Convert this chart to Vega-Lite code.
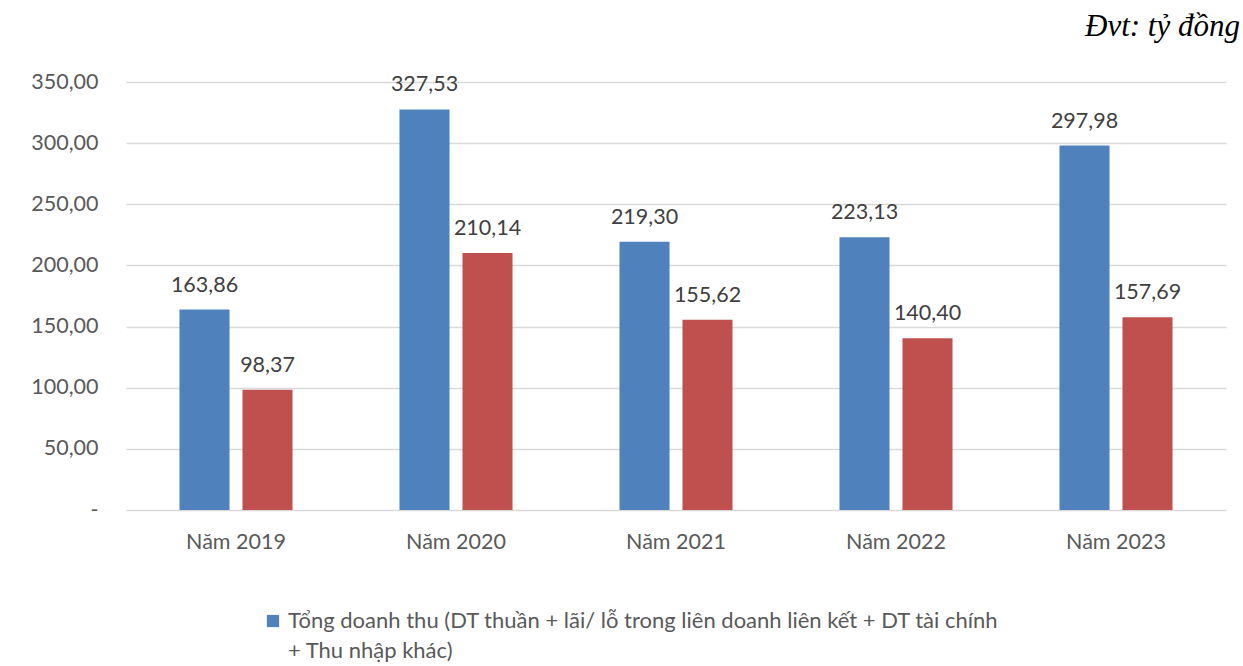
{
  "$schema": "https://vega.github.io/schema/vega-lite/v6.json",
  "width": 1100,
  "height": 428,
  "autosize": {"type": "none"},
  "padding": {"left": 126, "top": 82, "right": 17, "bottom": 156},
  "background": "white",
  "config": {
    "locale": {"number": {"decimal": ",", "thousands": ".", "grouping": [3], "currency": ["", ""]}},
    "view": {"stroke": null},
    "font": "Lato"
  },
  "title": {
    "text": "Đvt: tỷ đồng",
    "anchor": "end",
    "frame": "group",
    "font": "Liberation Serif",
    "fontStyle": "italic",
    "fontSize": 31,
    "fontWeight": "normal",
    "color": "#000000",
    "offset": 28,
    "dx": 14
  },
  "data": {
    "values": [
      {"nam": "Năm 2019", "series": "Tổng doanh thu", "value": 163.86},
      {"nam": "Năm 2019", "series": "Lợi nhuận gộp", "value": 98.37},
      {"nam": "Năm 2020", "series": "Tổng doanh thu", "value": 327.53},
      {"nam": "Năm 2020", "series": "Lợi nhuận gộp", "value": 210.14},
      {"nam": "Năm 2021", "series": "Tổng doanh thu", "value": 219.30},
      {"nam": "Năm 2021", "series": "Lợi nhuận gộp", "value": 155.62},
      {"nam": "Năm 2022", "series": "Tổng doanh thu", "value": 223.13},
      {"nam": "Năm 2022", "series": "Lợi nhuận gộp", "value": 140.40},
      {"nam": "Năm 2023", "series": "Tổng doanh thu", "value": 297.98},
      {"nam": "Năm 2023", "series": "Lợi nhuận gộp", "value": 157.69}
    ]
  },
  "encoding": {
    "x": {
      "field": "nam",
      "type": "nominal",
      "sort": null,
      "scale": {"paddingInner": 0, "paddingOuter": 0},
      "axis": {
        "title": null,
        "labelAngle": 0,
        "domain": false,
        "ticks": false,
        "labelPadding": 21,
        "labelFontSize": 21.5,
        "labelColor": "#595959"
      }
    },
    "xOffset": {
      "field": "series",
      "type": "nominal",
      "sort": ["Tổng doanh thu", "Lợi nhuận gộp"],
      "scale": {"paddingInner": 0.206, "paddingOuter": 0.849}
    },
    "y": {
      "field": "value",
      "type": "quantitative",
      "scale": {"domain": [0, 350], "nice": false},
      "axis": {
        "title": null,
        "values": [0, 50, 100, 150, 200, 250, 300, 350],
        "grid": true,
        "gridColor": "#D9D9D9",
        "gridWidth": 1.5,
        "domain": false,
        "ticks": false,
        "labelPadding": 28,
        "labelFontSize": 21.5,
        "labelColor": "#595959",
        "labelExpr": "datum.value == 0 ? '-\u2007\u2007' : format(datum.value, '.2f')"
      }
    }
  },
  "layer": [
    {
      "mark": {"type": "bar"},
      "encoding": {
        "color": {
          "field": "series",
          "type": "nominal",
          "scale": {"domain": ["Tổng doanh thu", "Lợi nhuận gộp"], "range": ["#4F81BD", "#C0504D"]},
          "legend": {
            "orient": "none",
            "legendX": 136,
            "legendY": 528,
            "values": ["Tổng doanh thu"],
            "title": null,
            "symbolType": "square",
            "symbolSize": 150,
            "symbolStrokeWidth": 0,
            "labelFontSize": 22,
            "labelColor": "#595959",
            "labelLimit": 1000,
            "labelOffset": 4,
            "labelExpr": "datum.label == 'Tổng doanh thu' ? ['Tổng doanh thu (DT thuần + lãi/ lỗ trong liên doanh liên kết + DT tài chính', '+ Thu nhập khác)'] : datum.label",
            "encode": {"labels": {"update": {"lineHeight": {"value": 30}}}}
          }
        }
      }
    },
    {
      "mark": {"type": "text", "baseline": "bottom", "dy": -13, "fontSize": 21.5, "color": "#404040"},
      "encoding": {
        "text": {"field": "value", "type": "quantitative", "format": ".2f"}
      }
    }
  ]
}
